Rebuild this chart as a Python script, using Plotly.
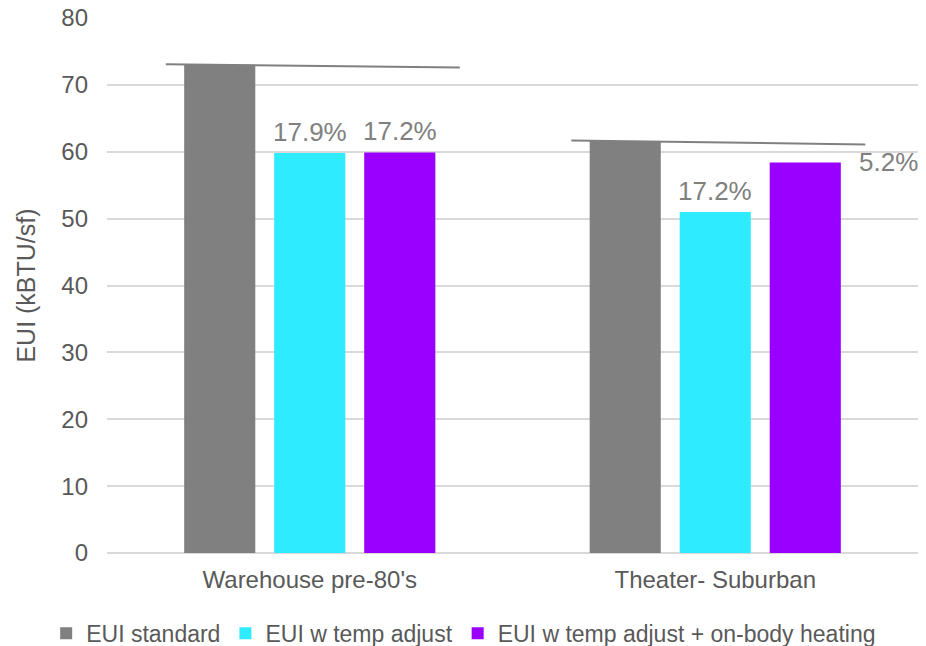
import plotly.graph_objects as go

categories = ["Warehouse pre-80's", "Theater- Suburban"]
series_names = ["EUI standard", "EUI w temp adjust", "EUI w temp adjust + on-body heating"]
eui_standard = [73.0, 61.6]
eui_temp = [59.8, 51.0]
eui_onbody = [59.9, 58.4]
series_values = [eui_standard, eui_temp, eui_onbody]
colors = ["#808080", "#2EEBFF", "#9900FF"]

# percentage labels (series index, category index, text)
pct_labels = [(1, 0, "17.9%"), (2, 0, "17.2%"), (1, 1, "17.2%"), (2, 1, "5.2%")]

# reference lines across each group (start value, end value)
ref_line_start = [73.1, 61.7]
ref_line_end = [72.6, 61.1]

y_ticks = [0, 10, 20, 30, 40, 50, 60, 70, 80]

fig = go.Figure()
for name, vals, col in zip(series_names, series_values, colors):
    fig.add_trace(go.Bar(x=categories, y=vals, name=name, marker_color=col,
                         marker_line_width=0, xaxis="x", yaxis="y"))

bargap = 0.334
slot = (1 - bargap) / 3
for i in range(len(categories)):
    fig.add_trace(go.Scatter(x=[i - 0.355, i + 0.37], y=[ref_line_start[i], ref_line_end[i]],
                             mode="lines", line=dict(color="#808080", width=2),
                             showlegend=False, hoverinfo="skip", xaxis="x2", yaxis="y"))

for s, c, txt in pct_labels:
    xc = c + (s - 1) * slot
    v = series_values[s][c]
    if txt == "5.2%":
        fig.add_annotation(x=xc, y=v, xref="x2", yref="y", text=txt, showarrow=False,
                           xanchor="left", yanchor="middle", xshift=52,
                           font=dict(size=26, color="#808080"))
    else:
        fig.add_annotation(x=xc, y=v, xref="x2", yref="y", text=txt, showarrow=False,
                           xanchor="center", yanchor="bottom", yshift=4,
                           font=dict(size=26, color="#808080"))

fig.update_layout(
    width=926, height=646,
    margin=dict(l=107, r=8, t=18, b=93, autoexpand=False),
    paper_bgcolor="white", plot_bgcolor="white",
    font=dict(family="Liberation Sans, Arial, sans-serif", color="#595959", size=24),
    barmode="group", bargap=bargap, bargroupgap=0.21,
    xaxis=dict(type="category", showgrid=False, showline=False, zeroline=False,
               tickfont=dict(size=24, color="#595959"), ticks="", ticklabelstandoff=10),
    xaxis2=dict(overlaying="x", range=[-0.5, 1.5], visible=False),
    yaxis=dict(range=[0, 80], tickvals=y_ticks, showgrid=True, gridcolor="#D9D9D9",
               gridwidth=1.5, zeroline=True, zerolinecolor="#D9D9D9", zerolinewidth=1.5,
               showline=False, ticks="", ticklabelstandoff=18,
               tickfont=dict(size=24, color="#595959"),
               title=dict(text="\u00a0\u00a0\u00a0\u00a0EUI (kBTU/sf)",
                          font=dict(size=25, color="#595959"), standoff=18)),
    legend=dict(orientation="h", xref="paper", yref="paper", x=-0.075, y=-0.15,
                xanchor="left", yanchor="middle", bgcolor="rgba(0,0,0,0)",
                font=dict(size=23, color="#595959"), itemwidth=30,
                tracegroupgap=0),
    showlegend=True,
)

fig.write_html("out.html")
